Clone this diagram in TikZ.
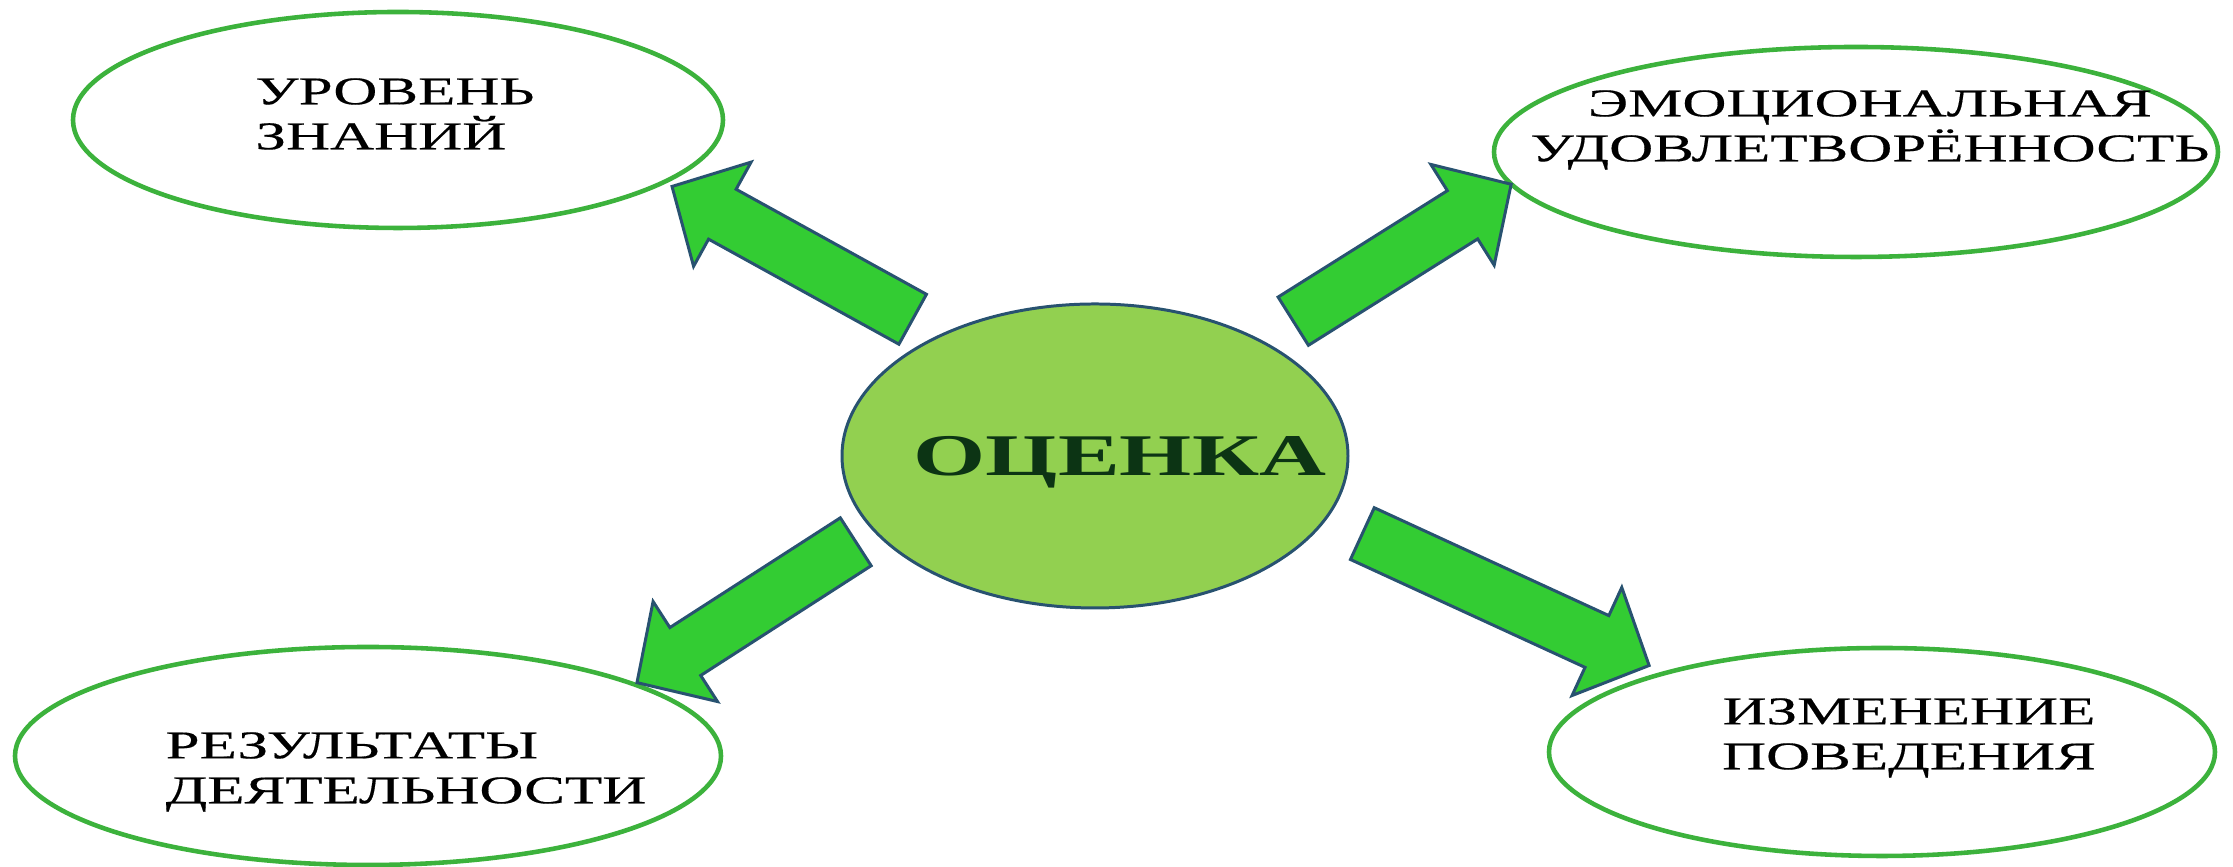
\documentclass[tikz,border=0pt]{standalone}
\usepackage{fontspec}
\setmainfont{Liberation Serif}
\newfontfamily\ovalfont[FakeStretch=1.55, FakeBold=0.4]{Liberation Serif}
\newfontfamily\hubfont[FakeStretch=1.57]{Liberation Serif}
\usetikzlibrary{positioning, shapes.geometric, shapes.arrows, calc}

\definecolor{ovalgreen}{RGB}{60,178,60}
\definecolor{hubgreen}{RGB}{146,208,80}
\definecolor{arrowgreen}{RGB}{51,204,51}
\definecolor{edgeblue}{RGB}{40,82,112}
\definecolor{darkgreen}{RGB}{12,52,20}

\begin{document}
\begin{tikzpicture}[
        oval/.style={draw=ovalgreen, line width=1.3pt, ellipse, inner sep=0pt, fill=white},
        ovaltext/.style={font=\ovalfont\fontsize{11.2}{12.8}\selectfont, inner sep=0pt},
        hub/.style={draw=edgeblue, line width=0.85pt, ellipse, fill=hubgreen, minimum width=5.06cm, minimum height=3.04cm, inner sep=0pt},
        hubtext/.style={font=\hubfont\bfseries\fontsize{16.8}{18}\selectfont, text=darkgreen, inner sep=0pt},
        bigarrow/.style={single arrow, draw=edgeblue, fill=arrowgreen, line width=0.85pt, inner xsep=0pt, inner ysep=0.27cm, single arrow head extend=0.31cm, single arrow tip angle=92, anchor=tail}
    ]
    \useasboundingbox (0,0) rectangle (22.33,8.67);

    \node[hub] (ocenka) at (10.95,4.11) {};
    \node[hubtext] (ocenkatext) at ([shift={(0.25,-0.06)}]ocenka.center) {ОЦЕНКА};

    \node[oval, minimum width=6.50cm, minimum height=2.16cm] (uroven) at (3.98,7.47) {};
    \node[ovaltext, align=left] (urovenlbl) at ([shift={(-0.03,0.06)}]uroven.center) {УРОВЕНЬ\\ЗНАНИЙ};

    \node[oval, minimum width=7.24cm, minimum height=2.10cm] (emotsii) at (18.56,7.15) {};
    \node[ovaltext, align=center] (emotsiilbl) at ([shift={(0.14,0.22)}]emotsii.center) {ЭМОЦИОНАЛЬНАЯ\\УДОВЛЕТВОРЁННОСТЬ};

    \node[oval, minimum width=7.06cm, minimum height=2.18cm] (rezultaty) at (3.68,1.11) {};
    \node[ovaltext, align=left] (rezultatylbl) at ([shift={(0.38,-0.16)}]rezultaty.center) {РЕЗУЛЬТАТЫ\\ДЕЯТЕЛЬНОСТИ};

    \node[oval, minimum width=6.66cm, minimum height=2.08cm] (povedenie) at (18.82,1.15) {};
    \node[ovaltext, align=center] (povedenielbl) at ([shift={(0.27,0.14)}]povedenie.center) {ИЗМЕНЕНИЕ\\ПОВЕДЕНИЯ};

    % block arrows from the centre outwards
    \coordinate (from1) at (9.14,5.47);  \coordinate (to1) at (6.73,6.80);
    \coordinate (from2) at (12.92,5.45); \coordinate (to2) at (15.10,6.82);
    \coordinate (from3) at (8.57,3.26);  \coordinate (to3) at (6.38,1.85);
    \coordinate (from4) at (13.61,3.34); \coordinate (to4) at (16.48,2.02);

    \path let \p1=($(to1)-(from1)$) in node[bigarrow, minimum height={veclen(\x1,\y1)}, rotate={atan2(\y1,\x1)}] (arr1) at (from1) {};
    \path let \p1=($(to2)-(from2)$) in node[bigarrow, minimum height={veclen(\x1,\y1)}, rotate={atan2(\y1,\x1)}] (arr2) at (from2) {};
    \path let \p1=($(to3)-(from3)$) in node[bigarrow, minimum height={veclen(\x1,\y1)}, rotate={atan2(\y1,\x1)}] (arr3) at (from3) {};
    \path let \p1=($(to4)-(from4)$) in node[bigarrow, minimum height={veclen(\x1,\y1)}, rotate={atan2(\y1,\x1)}] (arr4) at (from4) {};

\end{tikzpicture}
\end{document}
